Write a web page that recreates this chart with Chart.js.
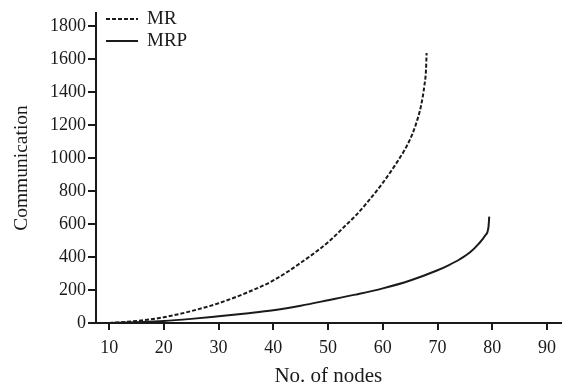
<!DOCTYPE html>
<html>
<head>
<meta charset="utf-8">
<script src="https://cdn.jsdelivr.net/npm/chart.js@4"></script>
<style>
  html, body { margin: 0; padding: 0; background: #fff; }
  #wrap { width: 563px; height: 385px; }
</style>
</head>
<body>
<div id="wrap"><canvas id="myChart"></canvas></div>
<script>
// values
const nodesMR = [10, 15, 20, 25, 30, 35, 40, 45, 50, 53, 55, 57, 60, 62, 64, 65, 66, 67, 67.6, 67.9, 68];
const commMR = [0, 12, 35, 72, 120, 182, 258, 365, 490, 585, 650, 725, 850, 945, 1050, 1115, 1200, 1320, 1440, 1540, 1637];

const nodesMRP = [10, 15, 20, 25, 30, 35, 40, 45, 50, 55, 60, 65, 70, 72, 74, 76, 77.5, 78.7, 79.3, 79.45];
const commMRP = [0, 5, 12, 25, 41, 58, 77, 105, 138, 172, 210, 258, 320, 350, 385, 430, 480, 530, 580, 645];

const xTicks = [10, 20, 30, 40, 50, 60, 70, 80, 90];
const yTicks = [0, 200, 400, 600, 800, 1000, 1200, 1400, 1600, 1800];

const serif = "'Liberation Serif', 'DejaVu Serif', serif";
const ink = '#1a1a1a';

function toPoints(xs, ys) {
  return xs.map((x, i) => ({ x: x, y: ys[i] }));
}

// small legend in the top left corner of the plot
const cornerLegend = {
  id: 'cornerLegend',
  afterDraw(chart) {
    const ctx = chart.ctx;
    const left = chart.chartArea.left + 10;
    const rows = [19, 41];
    ctx.save();
    chart.data.datasets.forEach((ds, i) => {
      const y = rows[i];
      ctx.beginPath();
      ctx.setLineDash(ds.borderDash || []);
      ctx.lineWidth = 2;
      ctx.strokeStyle = ds.borderColor;
      ctx.moveTo(left, y);
      ctx.lineTo(left + 32, y);
      ctx.stroke();
      ctx.setLineDash([]);
      ctx.fillStyle = ink;
      ctx.font = '19px ' + serif;
      ctx.textBaseline = 'middle';
      ctx.fillText(ds.label, left + 41, y);
    });
    ctx.restore();
  }
};

const data = {
  datasets: [
    {
      label: 'MR',
      data: toPoints(nodesMR, commMR),
      borderColor: ink,
      borderWidth: 2,
      borderDash: [4, 2],
      pointRadius: 0,
      cubicInterpolationMode: 'monotone',
      fill: false
    },
    {
      label: 'MRP',
      data: toPoints(nodesMRP, commMRP),
      borderColor: ink,
      borderWidth: 2,
      pointRadius: 0,
      cubicInterpolationMode: 'monotone',
      fill: false
    }
  ]
};

const config = {
  type: 'line',
  data: data,
  options: {
    responsive: true,
    maintainAspectRatio: false,
    animation: false,
    layout: { padding: { top: 13, right: 0, left: 0, bottom: 0 } },
    plugins: {
      legend: { display: false },
      tooltip: { enabled: false }
    },
    scales: {
      x: {
        type: 'linear',
        min: 7.6,
        max: 92.5,
        afterBuildTicks: (scale) => { scale.ticks = xTicks.map(v => ({ value: v })); },
        afterFit: (scale) => { scale.height = 62; },
        border: { display: true, color: ink, width: 2 },
        grid: { drawOnChartArea: false, drawTicks: true, tickLength: 7, color: ink, lineWidth: 2 },
        ticks: { color: ink, font: { family: serif, size: 18 }, padding: 7, maxRotation: 0, callback: (v) => String(v) },
        title: { display: true, text: 'No. of nodes', color: ink, font: { family: serif, size: 21, lineHeight: 1 }, padding: { top: 0, bottom: -2 } }
      },
      y: {
        min: 0,
        max: 1880,
        afterBuildTicks: (scale) => { scale.ticks = yTicks.map(v => ({ value: v })); },
        afterFit: (scale) => { scale.width = 96; },
        border: { display: true, color: ink, width: 2 },
        grid: { drawOnChartArea: false, drawTicks: true, tickLength: 8, color: ink, lineWidth: 2 },
        ticks: { color: ink, font: { family: serif, size: 18 }, padding: 2, callback: (v) => String(v) },
        title: { display: true, text: 'Communication', color: ink, font: { family: serif, size: 19.5 }, padding: { top: 10, bottom: 0 } }
      }
    }
  },
  plugins: [cornerLegend]
};

var myChart = new Chart(
  document.getElementById('myChart'),
  config
);
</script>
</body>
</html>
